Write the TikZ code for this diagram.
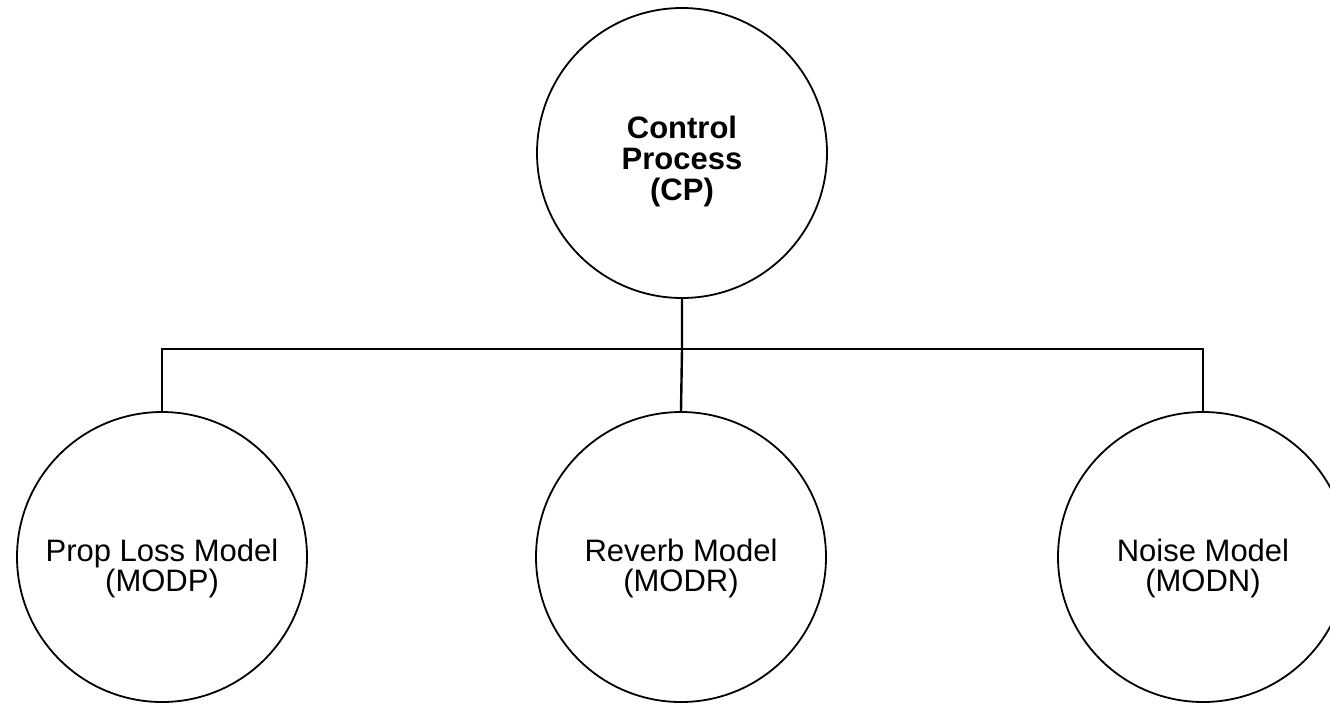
\documentclass[tikz,border=0pt]{standalone}
\usepackage{fontspec}
\setmainfont{Liberation Sans}
\usepackage{tikz}

\begin{document}
\begin{tikzpicture}[x=1pt,y=-1pt,
    proc/.style={draw,circle,line width=1.8pt,minimum size=290pt,inner sep=0},
    txt/.style={align=center,font=\fontsize{31}{30}\selectfont,yshift=-11pt},
    link/.style={line width=2.4pt}]
        \useasboundingbox (0,0) rectangle (1330,705);
        \node[proc,label={[txt,font=\bfseries\fontsize{31}{31}\selectfont,yshift=3pt]center:{Control\\Process\\(CP)}}] (cp) at (682,153) {};
        \node[proc,label={[txt]center:{Prop Loss Model\\(MODP)}}] (modp) at (162,557) {};
        \node[proc,label={[txt]center:{Reverb Model\\(MODR)}}] (modr) at (681,557) {};
        \node[proc,label={[txt]center:{Noise Model\\(MODN)}}] (modn) at (1203,557) {};
        \coordinate (bus) at (682,349);
        \draw[link] (cp.south) -- (bus) (bus) -- (modr.north);
        \draw[link] (bus) -| (modp.north) (bus) -| (modn.north);
      \end{tikzpicture}
\end{document}
